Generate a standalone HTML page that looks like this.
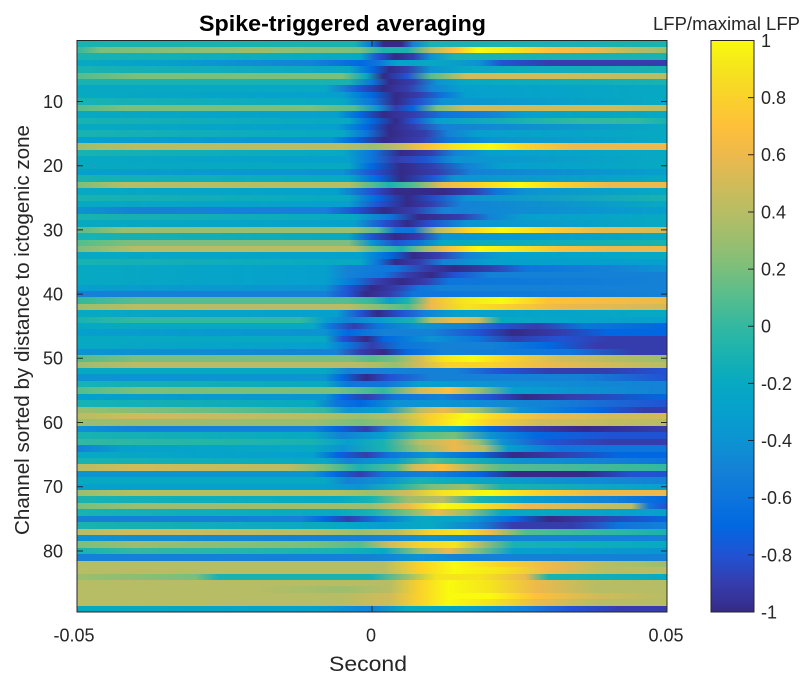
<!DOCTYPE html>
<html><head><meta charset="utf-8">
<style>
:root{
--n10:#352A87;--n9:#353DAD;--n8:#2053D4;--n7:#0268E1;--n6:#0D75DC;--n5:#1481D6;--n4:#0C93D2;--n3:#06A0CD;--n2:#07A9C2;--n1:#19B2B1;
--z:#33B8A1;--p1:#55BD8E;--p2:#7ABF7C;--p3:#9BBE6E;--p4:#B7BD64;--p5:#D1BB59;--p6:#EDB94C;--p7:#FEC03A;--p8:#FAD12B;--p9:#F5E41D;--p10:#F9FA0E;}
html,body{margin:0;padding:0;background:#fff;}
#wrap{position:relative;width:806px;height:675px;overflow:hidden;background:#fff;}
#hm{position:absolute;left:77px;top:40.5px;width:590px;height:571.5px;display:flex;flex-direction:column;}
#hm i{display:block;flex:1 1 0;}
#cb{position:absolute;left:711px;top:40.5px;width:43px;height:571.5px;
background:linear-gradient(to top,var(--n10) 0%,var(--n9) 5%,var(--n8) 10%,var(--n7) 15%,var(--n6) 20%,var(--n5) 25%,var(--n4) 30%,var(--n3) 35%,var(--n2) 40%,var(--n1) 45%,var(--z) 50%,var(--p1) 55%,var(--p2) 60%,var(--p3) 65%,var(--p4) 70%,var(--p5) 75%,var(--p6) 80%,var(--p7) 85%,var(--p8) 90%,var(--p9) 95%,var(--p10) 100%);}
svg{position:absolute;left:0;top:0;}
text{font-family:"Liberation Sans",Arial,sans-serif;fill:#262626;}
</style></head><body><div id="wrap">
<div id="hm">
<i style="background:linear-gradient(90deg,var(--n1) 0%,var(--n1) 47%,var(--n6) 50%,var(--n10) 52%,var(--n10) 55%,var(--n5) 57%,var(--n1) 60%,var(--n1) 100%)"></i>
<i style="background:linear-gradient(90deg,var(--z) 0%,var(--p2) 4%,var(--p3) 30%,var(--p2) 48%,var(--n1) 52%,var(--n1) 56%,var(--p4) 60%,var(--p7) 64%,var(--p10) 68%,var(--p9) 74%,var(--p7) 80%,var(--p6) 88%,var(--p4) 94%,var(--p3) 100%)"></i>
<i style="background:linear-gradient(90deg,var(--n1) 0%,var(--n2) 48%,var(--n8) 51%,var(--n10) 54%,var(--n9) 57%,var(--n4) 60%,var(--n1) 64%,var(--n1) 100%)"></i>
<i style="background:linear-gradient(90deg,var(--n2) 0%,var(--n3) 15%,var(--n4) 25%,var(--n5) 40%,var(--n7) 48%,var(--n6) 51%,var(--n3) 54%,var(--n2) 60%,var(--n4) 68%,var(--n8) 72%,var(--n9) 80%,var(--n9) 100%)"></i>
<i style="background:linear-gradient(90deg,var(--n1) 0%,var(--n2) 46%,var(--n7) 50%,var(--n10) 53%,var(--n9) 56%,var(--n4) 60%,var(--n2) 66%,var(--n1) 100%)"></i>
<i style="background:linear-gradient(90deg,var(--p1) 0%,var(--p2) 10%,var(--p2) 45%,var(--n2) 49%,var(--n10) 52%,var(--n8) 56%,var(--p1) 60%,var(--p5) 66%,var(--p5) 80%,var(--p4) 100%)"></i>
<i style="background:linear-gradient(90deg,var(--n1) 0%,var(--n1) 46%,var(--n6) 50%,var(--n10) 53%,var(--n9) 57%,var(--n4) 61%,var(--n2) 66%,var(--n1) 100%)"></i>
<i style="background:linear-gradient(90deg,var(--n2) 0%,var(--n2) 42%,var(--n5) 45%,var(--n8) 48%,var(--n10) 52%,var(--n9) 56%,var(--n5) 60%,var(--n3) 65%,var(--n2) 100%)"></i>
<i style="background:linear-gradient(90deg,var(--n2) 0%,var(--n3) 45%,var(--n7) 50%,var(--n10) 54%,var(--n9) 58%,var(--n6) 62%,var(--n3) 66%,var(--n2) 100%)"></i>
<i style="background:linear-gradient(90deg,var(--n1) 0%,var(--n2) 45%,var(--n6) 50%,var(--n10) 54%,var(--n8) 58%,var(--n4) 62%,var(--n2) 100%)"></i>
<i style="background:linear-gradient(90deg,var(--p1) 0%,var(--p2) 8%,var(--p2) 40%,var(--p1) 47%,var(--n4) 51%,var(--n9) 54%,var(--n7) 57%,var(--p2) 61%,var(--p5) 66%,var(--p5) 90%,var(--p4) 100%)"></i>
<i style="background:linear-gradient(90deg,var(--n2) 0%,var(--n3) 44%,var(--n7) 48%,var(--n10) 52%,var(--n9) 57%,var(--n6) 62%,var(--n5) 70%,var(--n3) 76%,var(--n2) 100%)"></i>
<i style="background:linear-gradient(90deg,var(--n1) 0%,var(--n2) 46%,var(--n7) 50%,var(--n10) 54%,var(--n8) 57%,var(--n3) 61%,var(--n1) 75%,var(--z) 85%,var(--z) 95%,var(--n1) 100%)"></i>
<i style="background:linear-gradient(90deg,var(--n2) 0%,var(--n3) 44%,var(--n7) 49%,var(--n10) 53%,var(--n9) 57%,var(--n5) 62%,var(--n2) 100%)"></i>
<i style="background:linear-gradient(90deg,var(--n1) 0%,var(--n2) 45%,var(--n6) 49%,var(--n10) 53%,var(--n9) 59%,var(--n5) 63%,var(--n3) 68%,var(--n2) 100%)"></i>
<i style="background:linear-gradient(90deg,var(--n3) 0%,var(--n4) 43%,var(--n7) 47%,var(--n10) 52%,var(--n9) 58%,var(--n6) 63%,var(--n4) 70%,var(--n2) 100%)"></i>
<i style="background:linear-gradient(90deg,var(--p3) 0%,var(--p4) 10%,var(--p4) 45%,var(--p3) 50%,var(--p4) 54%,var(--p7) 59%,var(--p9) 64%,var(--p10) 70%,var(--p8) 76%,var(--p6) 84%,var(--p6) 100%)"></i>
<i style="background:linear-gradient(90deg,var(--n1) 0%,var(--n2) 45%,var(--n6) 50%,var(--n10) 55%,var(--n9) 60%,var(--n5) 64%,var(--n3) 70%,var(--n2) 100%)"></i>
<i style="background:linear-gradient(90deg,var(--n2) 0%,var(--n3) 46%,var(--n6) 50%,var(--n9) 54%,var(--n8) 59%,var(--n4) 64%,var(--n2) 100%)"></i>
<i style="background:linear-gradient(90deg,var(--n2) 0%,var(--n2) 46%,var(--n7) 50%,var(--n10) 55%,var(--n9) 60%,var(--n5) 66%,var(--n3) 72%,var(--n2) 100%)"></i>
<i style="background:linear-gradient(90deg,var(--n3) 0%,var(--n4) 45%,var(--n8) 50%,var(--n10) 55%,var(--n9) 61%,var(--n5) 67%,var(--n3) 100%)"></i>
<i style="background:linear-gradient(90deg,var(--n1) 0%,var(--n2) 46%,var(--n7) 51%,var(--n10) 55%,var(--n8) 60%,var(--n4) 64%,var(--n2) 100%)"></i>
<i style="background:linear-gradient(90deg,var(--p2) 0%,var(--p4) 8%,var(--p4) 46%,var(--p1) 50%,var(--n1) 53%,var(--p1) 57%,var(--p6) 62%,var(--p8) 68%,var(--p10) 75%,var(--p8) 82%,var(--p6) 90%,var(--p6) 100%)"></i>
<i style="background:linear-gradient(90deg,var(--n2) 0%,var(--n3) 44%,var(--n8) 50%,var(--n10) 54%,var(--n10) 62%,var(--n9) 67%,var(--n6) 71%,var(--n4) 76%,var(--n2) 100%)"></i>
<i style="background:linear-gradient(90deg,var(--n1) 0%,var(--n2) 46%,var(--n7) 51%,var(--n10) 56%,var(--n8) 61%,var(--n4) 66%,var(--n1) 100%)"></i>
<i style="background:linear-gradient(90deg,var(--n2) 0%,var(--n3) 46%,var(--n8) 51%,var(--n10) 56%,var(--n9) 60%,var(--n5) 65%,var(--n2) 100%)"></i>
<i style="background:linear-gradient(90deg,var(--n4) 0%,var(--n5) 10%,var(--n5) 42%,var(--n8) 47%,var(--n10) 52%,var(--n9) 57%,var(--n5) 62%,var(--n3) 100%)"></i>
<i style="background:linear-gradient(90deg,var(--n1) 0%,var(--n2) 47%,var(--n6) 53%,var(--n10) 58%,var(--n9) 65%,var(--n5) 70%,var(--n3) 76%,var(--n2) 100%)"></i>
<i style="background:linear-gradient(90deg,var(--n2) 0%,var(--n3) 47%,var(--n8) 52%,var(--n10) 56%,var(--n8) 60%,var(--n4) 66%,var(--n2) 100%)"></i>
<i style="background:linear-gradient(90deg,var(--p1) 0%,var(--p3) 8%,var(--p3) 47%,var(--p1) 51%,var(--n6) 54%,var(--n6) 57%,var(--p4) 61%,var(--p8) 66%,var(--p10) 72%,var(--p8) 80%,var(--p6) 88%,var(--p5) 100%)"></i>
<i style="background:linear-gradient(90deg,var(--n1) 0%,var(--n2) 46%,var(--n8) 50%,var(--n10) 54%,var(--n9) 58%,var(--n4) 62%,var(--n2) 100%)"></i>
<i style="background:linear-gradient(90deg,var(--p1) 0%,var(--p2) 8%,var(--p2) 46%,var(--n4) 50%,var(--n8) 54%,var(--n6) 58%,var(--n2) 62%,var(--n1) 100%)"></i>
<i style="background:linear-gradient(90deg,var(--p2) 0%,var(--p4) 10%,var(--p4) 47%,var(--p1) 51%,var(--n1) 55%,var(--p3) 59%,var(--p7) 63%,var(--p10) 68%,var(--p9) 75%,var(--p7) 82%,var(--p6) 90%,var(--p6) 100%)"></i>
<i style="background:linear-gradient(90deg,var(--n2) 0%,var(--n3) 48%,var(--n7) 53%,var(--n10) 57%,var(--n9) 61%,var(--n5) 66%,var(--n3) 72%,var(--n2) 100%)"></i>
<i style="background:linear-gradient(90deg,var(--n1) 0%,var(--n2) 48%,var(--n6) 51%,var(--n10) 54%,var(--n9) 58%,var(--n5) 62%,var(--n3) 70%,var(--n3) 100%)"></i>
<i style="background:linear-gradient(90deg,var(--n2) 0%,var(--n3) 42%,var(--n5) 46%,var(--n6) 54%,var(--n9) 59%,var(--n10) 64%,var(--n9) 70%,var(--n6) 76%,var(--n5) 90%,var(--n4) 100%)"></i>
<i style="background:linear-gradient(90deg,var(--n2) 0%,var(--n3) 42%,var(--n5) 46%,var(--n6) 52%,var(--n9) 56%,var(--n10) 60%,var(--n8) 64%,var(--n5) 70%,var(--n5) 100%)"></i>
<i style="background:linear-gradient(90deg,var(--n2) 0%,var(--n3) 42%,var(--n6) 47%,var(--n9) 51%,var(--n10) 55%,var(--n9) 59%,var(--n6) 63%,var(--n5) 100%)"></i>
<i style="background:linear-gradient(90deg,var(--n3) 0%,var(--n4) 42%,var(--n8) 46%,var(--n10) 50%,var(--n9) 54%,var(--n6) 58%,var(--n5) 62%,var(--n5) 100%)"></i>
<i style="background:linear-gradient(90deg,var(--n5) 0%,var(--n5) 42%,var(--n8) 46%,var(--n10) 49%,var(--n9) 53%,var(--n6) 57%,var(--n5) 100%)"></i>
<i style="background:linear-gradient(90deg,var(--z) 0%,var(--p1) 10%,var(--p1) 46%,var(--z) 50%,var(--n3) 53%,var(--n1) 56%,var(--p6) 60%,var(--p9) 65%,var(--p10) 72%,var(--p7) 80%,var(--p6) 100%)"></i>
<i style="background:linear-gradient(90deg,var(--p3) 0%,var(--p4) 10%,var(--p4) 46%,var(--p2) 52%,var(--p1) 56%,var(--p6) 60%,var(--p9) 66%,var(--p8) 72%,var(--p6) 82%,var(--p5) 100%)"></i>
<i style="background:linear-gradient(90deg,var(--n2) 0%,var(--n3) 44%,var(--n8) 48%,var(--n10) 51%,var(--n8) 55%,var(--n5) 59%,var(--n3) 64%,var(--n2) 100%)"></i>
<i style="background:linear-gradient(90deg,var(--n1) 0%,var(--z) 10%,var(--z) 38%,var(--n3) 42%,var(--n5) 46%,var(--n3) 52%,var(--n1) 57%,var(--p4) 60%,var(--p6) 64%,var(--p5) 68%,var(--n2) 72%,var(--n3) 100%)"></i>
<i style="background:linear-gradient(90deg,var(--n2) 0%,var(--n2) 40%,var(--n6) 43%,var(--n9) 47%,var(--n6) 51%,var(--n4) 58%,var(--n5) 66%,var(--n8) 72%,var(--n9) 78%,var(--n6) 86%,var(--n7) 100%)"></i>
<i style="background:linear-gradient(90deg,var(--n3) 0%,var(--n4) 42%,var(--n7) 46%,var(--n5) 52%,var(--n5) 60%,var(--n8) 68%,var(--n10) 74%,var(--n9) 82%,var(--n7) 90%,var(--n7) 100%)"></i>
<i style="background:linear-gradient(90deg,var(--n2) 0%,var(--n2) 42%,var(--n8) 45%,var(--n10) 49%,var(--n7) 52%,var(--n4) 60%,var(--n6) 68%,var(--n9) 74%,var(--n8) 82%,var(--n9) 90%,var(--n9) 100%)"></i>
<i style="background:linear-gradient(90deg,var(--n2) 0%,var(--n3) 42%,var(--n6) 46%,var(--n9) 50%,var(--n6) 55%,var(--n5) 62%,var(--n5) 70%,var(--n7) 80%,var(--n9) 88%,var(--n9) 100%)"></i>
<i style="background:linear-gradient(90deg,var(--n4) 0%,var(--n5) 44%,var(--n9) 48%,var(--n10) 52%,var(--n7) 56%,var(--n5) 62%,var(--n6) 84%,var(--n9) 94%,var(--n9) 100%)"></i>
<i style="background:linear-gradient(90deg,var(--p1) 0%,var(--p2) 10%,var(--p2) 46%,var(--p1) 50%,var(--p2) 54%,var(--p5) 58%,var(--p9) 62%,var(--p10) 67%,var(--p8) 73%,var(--p5) 82%,var(--p3) 100%)"></i>
<i style="background:linear-gradient(90deg,var(--p3) 0%,var(--p4) 10%,var(--p4) 48%,var(--p3) 54%,var(--p5) 58%,var(--p8) 63%,var(--p8) 70%,var(--p6) 80%,var(--p4) 100%)"></i>
<i style="background:linear-gradient(90deg,var(--n2) 0%,var(--n2) 42%,var(--n5) 46%,var(--n5) 55%,var(--n5) 64%,var(--n8) 72%,var(--n9) 80%,var(--n9) 90%,var(--n8) 100%)"></i>
<i style="background:linear-gradient(90deg,var(--n4) 0%,var(--n4) 42%,var(--n7) 45%,var(--n10) 49%,var(--n8) 53%,var(--n5) 60%,var(--n5) 85%,var(--n8) 100%)"></i>
<i style="background:linear-gradient(90deg,var(--n1) 0%,var(--n2) 42%,var(--n6) 46%,var(--n6) 52%,var(--n3) 58%,var(--n4) 70%,var(--n5) 100%)"></i>
<i style="background:linear-gradient(90deg,var(--p1) 0%,var(--p2) 10%,var(--p2) 44%,var(--p1) 48%,var(--z) 52%,var(--p5) 58%,var(--p7) 63%,var(--p3) 68%,var(--n3) 74%,var(--n5) 100%)"></i>
<i style="background:linear-gradient(90deg,var(--n3) 0%,var(--n4) 42%,var(--n7) 45%,var(--n9) 49%,var(--n6) 54%,var(--n5) 62%,var(--n8) 70%,var(--n10) 76%,var(--n9) 84%,var(--n7) 100%)"></i>
<i style="background:linear-gradient(90deg,var(--n1) 0%,var(--n2) 40%,var(--n6) 44%,var(--n7) 48%,var(--n4) 54%,var(--n4) 62%,var(--n5) 80%,var(--n8) 100%)"></i>
<i style="background:linear-gradient(90deg,var(--p3) 0%,var(--p2) 15%,var(--p1) 30%,var(--z) 42%,var(--n4) 46%,var(--n3) 52%,var(--p4) 58%,var(--p6) 62%,var(--p3) 68%,var(--n4) 75%,var(--n7) 88%,var(--n9) 96%,var(--n9) 100%)"></i>
<i style="background:linear-gradient(90deg,var(--p4) 0%,var(--p5) 10%,var(--p4) 40%,var(--p3) 48%,var(--p4) 54%,var(--p8) 60%,var(--p10) 66%,var(--p8) 72%,var(--p6) 80%,var(--p5) 90%,var(--p5) 100%)"></i>
<i style="background:linear-gradient(90deg,var(--p3) 0%,var(--p3) 40%,var(--p2) 48%,var(--p3) 54%,var(--p8) 60%,var(--p10) 65%,var(--p8) 70%,var(--p5) 78%,var(--p4) 100%)"></i>
<i style="background:linear-gradient(90deg,var(--n4) 0%,var(--n5) 10%,var(--n5) 40%,var(--n7) 44%,var(--n9) 49%,var(--n5) 53%,var(--n2) 58%,var(--n3) 64%,var(--n7) 70%,var(--n9) 76%,var(--n10) 86%,var(--n9) 100%)"></i>
<i style="background:linear-gradient(90deg,var(--n1) 0%,var(--n2) 40%,var(--n5) 45%,var(--n3) 52%,var(--p1) 58%,var(--p2) 64%,var(--n4) 70%,var(--n7) 78%,var(--n8) 90%,var(--n8) 100%)"></i>
<i style="background:linear-gradient(90deg,var(--z) 0%,var(--n1) 40%,var(--n3) 46%,var(--n1) 52%,var(--p4) 58%,var(--p6) 64%,var(--p3) 68%,var(--n4) 72%,var(--n8) 80%,var(--n9) 90%,var(--n9) 100%)"></i>
<i style="background:linear-gradient(90deg,var(--n5) 0%,var(--n3) 8%,var(--n2) 40%,var(--n4) 45%,var(--n1) 52%,var(--p3) 58%,var(--p6) 64%,var(--p4) 69%,var(--n3) 73%,var(--n6) 82%,var(--n6) 100%)"></i>
<i style="background:linear-gradient(90deg,var(--n2) 0%,var(--n3) 40%,var(--n7) 44%,var(--n9) 49%,var(--n6) 53%,var(--n4) 60%,var(--n7) 68%,var(--n10) 74%,var(--n9) 82%,var(--n7) 92%,var(--n7) 100%)"></i>
<i style="background:linear-gradient(90deg,var(--n1) 0%,var(--n2) 42%,var(--n5) 46%,var(--n3) 54%,var(--p1) 60%,var(--n1) 66%,var(--n4) 74%,var(--n5) 90%,var(--n6) 100%)"></i>
<i style="background:linear-gradient(90deg,var(--p4) 0%,var(--p5) 10%,var(--p4) 36%,var(--p2) 42%,var(--n1) 48%,var(--p1) 54%,var(--p5) 57%,var(--p7) 62%,var(--p4) 66%,var(--p1) 72%,var(--z) 100%)"></i>
<i style="background:linear-gradient(90deg,var(--n4) 0%,var(--n4) 40%,var(--n7) 44%,var(--n9) 48%,var(--n6) 52%,var(--n5) 60%,var(--n7) 68%,var(--n10) 74%,var(--n10) 86%,var(--n8) 94%,var(--n8) 100%)"></i>
<i style="background:linear-gradient(90deg,var(--n2) 0%,var(--n2) 42%,var(--n5) 46%,var(--n4) 52%,var(--n1) 58%,var(--n2) 66%,var(--n4) 80%,var(--n5) 100%)"></i>
<i style="background:linear-gradient(90deg,var(--n3) 0%,var(--n3) 42%,var(--n4) 48%,var(--n1) 54%,var(--p2) 60%,var(--p3) 66%,var(--n1) 72%,var(--n3) 100%)"></i>
<i style="background:linear-gradient(90deg,var(--p3) 0%,var(--p4) 10%,var(--p4) 44%,var(--p3) 50%,var(--p5) 56%,var(--p9) 62%,var(--p10) 70%,var(--p8) 78%,var(--p6) 88%,var(--p6) 100%)"></i>
<i style="background:linear-gradient(90deg,var(--n1) 0%,var(--n2) 44%,var(--n1) 50%,var(--p3) 56%,var(--p4) 62%,var(--n1) 68%,var(--n3) 76%,var(--n5) 90%,var(--n7) 100%)"></i>
<i style="background:linear-gradient(90deg,var(--p2) 0%,var(--p3) 10%,var(--p3) 50%,var(--p6) 56%,var(--p10) 62%,var(--p9) 68%,var(--p6) 76%,var(--p5) 86%,var(--p4) 94%,var(--n6) 97%,var(--n8) 100%)"></i>
<i style="background:linear-gradient(90deg,var(--n1) 0%,var(--n2) 44%,var(--n1) 50%,var(--p2) 56%,var(--p6) 61%,var(--p3) 66%,var(--n2) 72%,var(--n3) 100%)"></i>
<i style="background:linear-gradient(90deg,var(--n5) 0%,var(--n5) 38%,var(--n7) 42%,var(--n9) 46%,var(--n6) 51%,var(--n2) 58%,var(--n3) 66%,var(--n7) 74%,var(--n10) 80%,var(--n9) 88%,var(--n7) 100%)"></i>
<i style="background:linear-gradient(90deg,var(--n1) 0%,var(--n2) 44%,var(--n3) 52%,var(--n2) 60%,var(--n5) 68%,var(--n9) 74%,var(--n9) 84%,var(--n6) 92%,var(--n5) 100%)"></i>
<i style="background:linear-gradient(90deg,var(--p4) 0%,var(--p5) 10%,var(--p4) 40%,var(--p3) 48%,var(--p4) 54%,var(--p8) 60%,var(--p9) 65%,var(--p6) 70%,var(--p1) 76%,var(--n1) 100%)"></i>
<i style="background:linear-gradient(90deg,var(--n4) 0%,var(--n5) 40%,var(--n5) 50%,var(--n4) 60%,var(--n5) 70%,var(--n5) 100%)"></i>
<i style="background:linear-gradient(90deg,var(--p2) 0%,var(--p3) 10%,var(--p2) 40%,var(--p1) 48%,var(--p5) 53%,var(--p8) 58%,var(--p9) 64%,var(--p4) 68%,var(--n1) 74%,var(--n2) 100%)"></i>
<i style="background:linear-gradient(90deg,var(--n1) 0%,var(--z) 10%,var(--n1) 44%,var(--n2) 52%,var(--p3) 58%,var(--p6) 63%,var(--p2) 68%,var(--n3) 74%,var(--n4) 100%)"></i>
<i style="background:linear-gradient(90deg,var(--n5) 0%,var(--n5) 50%,var(--n4) 58%,var(--n5) 66%,var(--n5) 100%)"></i>
<i style="background:linear-gradient(90deg,var(--p4) 0%,var(--p4) 45%,var(--p4) 52%,var(--p8) 58%,var(--p10) 64%,var(--p8) 72%,var(--p6) 80%,var(--p4) 90%,var(--p3) 100%)"></i>
<i style="background:linear-gradient(90deg,var(--p4) 0%,var(--p4) 45%,var(--p4) 52%,var(--p8) 58%,var(--p10) 64%,var(--p9) 72%,var(--p6) 80%,var(--p4) 90%,var(--p4) 100%)"></i>
<i style="background:linear-gradient(90deg,var(--p3) 0%,var(--p2) 20%,var(--n1) 24%,var(--n1) 50%,var(--p3) 56%,var(--p9) 61%,var(--p9) 68%,var(--p6) 76%,var(--n1) 80%,var(--n2) 100%)"></i>
<i style="background:linear-gradient(90deg,var(--p4) 0%,var(--p4) 45%,var(--p4) 53%,var(--p8) 58%,var(--p10) 63%,var(--p9) 70%,var(--p6) 78%,var(--p4) 88%,var(--p4) 100%)"></i>
<i style="background:linear-gradient(90deg,var(--p4) 0%,var(--p4) 30%,var(--p3) 45%,var(--p4) 53%,var(--p8) 58%,var(--p10) 63%,var(--p9) 70%,var(--p6) 78%,var(--p4) 88%,var(--p4) 100%)"></i>
<i style="background:linear-gradient(90deg,var(--p4) 0%,var(--p4) 45%,var(--p5) 53%,var(--p8) 58%,var(--p10) 63%,var(--p10) 70%,var(--p7) 78%,var(--p5) 88%,var(--p4) 100%)"></i>
<i style="background:linear-gradient(90deg,var(--p4) 0%,var(--p4) 45%,var(--p5) 53%,var(--p8) 58%,var(--p10) 63%,var(--p9) 70%,var(--p6) 78%,var(--p4) 88%,var(--p4) 100%)"></i>
<i style="background:linear-gradient(90deg,var(--n2) 0%,var(--n3) 40%,var(--n5) 50%,var(--n2) 56%,var(--n3) 66%,var(--n5) 76%,var(--n8) 84%,var(--n9) 92%,var(--n9) 100%)"></i>
</div>
<div id="cb"></div>
<svg width="806" height="675" viewBox="0 0 806 675">
<g fill="none" stroke="#262626" stroke-width="1">
<rect x="77" y="40.5" width="590" height="571.5"/>
<rect x="711" y="40.5" width="43" height="571.5"/>
<path d="M77 101.5h6M77 165.7h6M77 229.9h6M77 294.1h6M77 358.3h6M77 422.5h6M77 486.8h6M77 551h6"/>
<path d="M667 101.5h-6M667 165.7h-6M667 229.9h-6M667 294.1h-6M667 358.3h-6M667 422.5h-6M667 486.8h-6M667 551h-6"/>
<path d="M77 612v-6M372 612v-6M667 612v-6M77 40.5v6M372 40.5v6M667 40.5v6"/>
<path d="M754 97.65h-6M754 154.8h-6M754 211.95h-6M754 269.1h-6M754 326.25h-6M754 383.4h-6M754 440.55h-6M754 497.7h-6M754 554.85h-6"/>
</g>
<g font-size="18" text-anchor="end">
<text x="63" y="107.9">10</text>
<text x="63" y="172.1">20</text>
<text x="63" y="236.3">30</text>
<text x="63" y="300.5">40</text>
<text x="63" y="364.7">50</text>
<text x="63" y="428.9">60</text>
<text x="63" y="493.2">70</text>
<text x="63" y="557.4">80</text>
</g>
<g font-size="18" text-anchor="middle">
<text x="74" y="641.5">-0.05</text>
<text x="371" y="641.5">0</text>
<text x="666" y="641.5">0.05</text>
</g>
<g font-size="18" text-anchor="start">
<text x="761" y="46.9">1</text>
<text x="761" y="104.1">0.8</text>
<text x="761" y="161.2">0.6</text>
<text x="761" y="218.4">0.4</text>
<text x="761" y="275.5">0.2</text>
<text x="761" y="332.7">0</text>
<text x="761" y="389.8">-0.2</text>
<text x="761" y="447">-0.4</text>
<text x="761" y="504.1">-0.6</text>
<text x="761" y="561.3">-0.8</text>
<text x="761" y="618.4">-1</text>
</g>
<text x="342.5" y="31" font-size="22" font-weight="bold" text-anchor="middle" style="fill:#000" textLength="287" lengthAdjust="spacingAndGlyphs">Spike-triggered averaging</text>
<text x="726.5" y="30" font-size="18" text-anchor="middle" textLength="147" lengthAdjust="spacingAndGlyphs">LFP/maximal LFP</text>
<text x="368" y="671" font-size="21" text-anchor="middle" textLength="78" lengthAdjust="spacingAndGlyphs">Second</text>
<text transform="translate(29,330) rotate(-90)" font-size="20" text-anchor="middle" textLength="410" lengthAdjust="spacingAndGlyphs">Channel sorted by distance to ictogenic zone</text>
</svg>
</div></body></html>
